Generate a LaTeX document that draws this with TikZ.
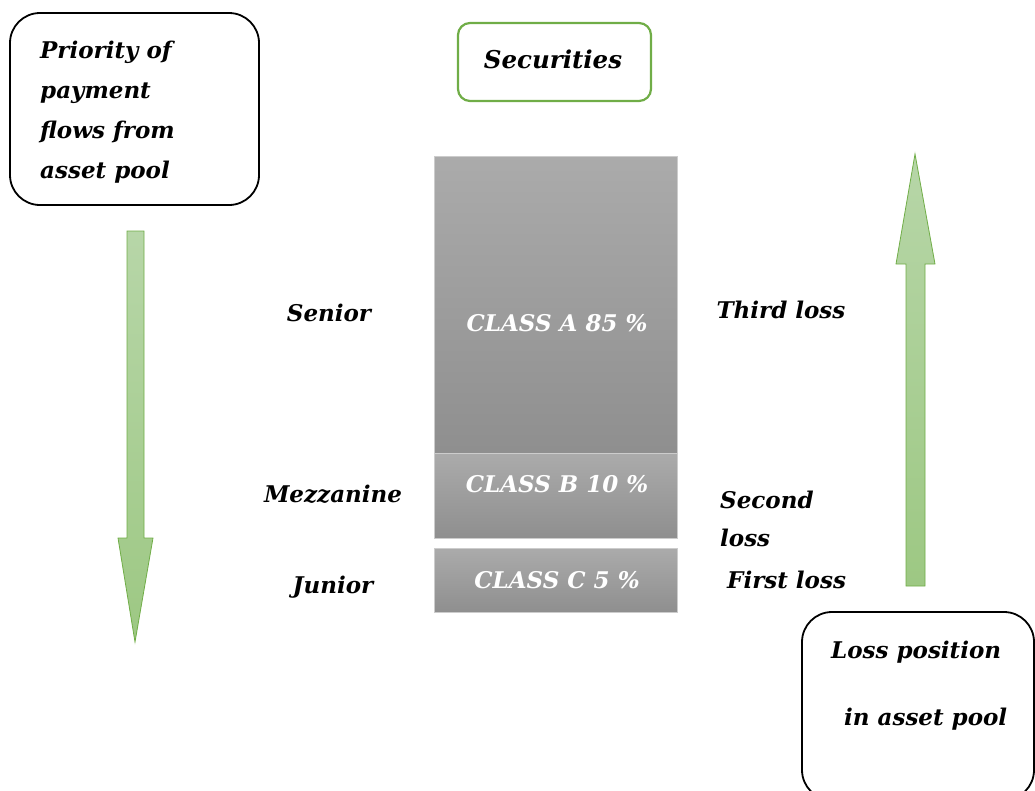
\documentclass[tikz,border=0pt]{standalone}
\usepackage{fontspec}
\setmainfont{DejaVu Serif}
\begin{document}
\begin{tikzpicture}[x=1pt,y=-1pt,
  lbl/.style={font=\bfseries\itshape\fontsize{23}{27}\selectfont, inner sep=0pt},
  boxlbl/.style={font=\bfseries\itshape\fontsize{23}{40}\selectfont, inner sep=0pt, align=left, anchor=west},
  tranche/.style={draw=black!20, line width=0.6pt, top color=black!33, bottom color=black!44, inner sep=0pt, minimum width=243pt},
  clbl/.style={font=\bfseries\itshape\fontsize{23}{27}\selectfont, text=white, inner sep=0pt},
]
\definecolor{gline}{RGB}{112,173,71}
\definecolor{gtop}{RGB}{183,214,168}
\definecolor{gbot}{RGB}{157,200,131}
\useasboundingbox (0,0) rectangle (1035,790);

% top-left box
\draw[line width=1.8pt, rounded corners=30pt] (10,13) rectangle (259,205);
\node[boxlbl] (prio) at (40,112) {Priority of\\payment\\flows from\\asset pool};

% Securities box
\draw[gline, line width=2.2pt, rounded corners=12pt] (458,23) rectangle (651,101);
\node[lbl, font=\bfseries\itshape\fontsize{24.5}{28}\selectfont] (sec) at (553,59) {Securities};

% tranches
\node[tranche, minimum height=297pt] (A) at (555.5,304.5) {};
\node[tranche, minimum height=85pt] (B) at (555.5,495.5) {};
\node[tranche, minimum height=64pt] (C) at (555.5,580) {};
\node[clbl] (Al) at (557,323) {CLASS A 85 \%};
\node[clbl] (Bl) at (557,484) {CLASS B 10 \%};
\node[clbl] (Cl) at (557,580) {CLASS C 5 \%};

% left labels
\node[lbl] (sen) at (329,313) {Senior};
\node[lbl] (mez) at (333,494) {Mezzanine};
\node[lbl] (jun) at (333,587) {Junior};

% right labels
\node[lbl] (third) at (781,310) {Third loss};
\node[lbl, anchor=west, align=left, font=\bfseries\itshape\fontsize{23}{38}\selectfont] (second) at (720,519) {Second\\loss};
\node[lbl, anchor=west] (first) at (727,580) {First loss};

% left arrow (down)
\draw[gline, line width=0.8pt, top color=gtop, bottom color=gbot]
  (127,231) -- (144,231) -- (144,538) -- (153,538) -- (135,642) -- (118,538) -- (127,538) -- cycle;

% right arrow (up)
\draw[gline, line width=0.8pt, top color=gtop, bottom color=gbot]
  (906,586) -- (925,586) -- (925,264) -- (935,264) -- (915,154) -- (896,264) -- (906,264) -- cycle;

% bottom-right box
\begin{scope}
\clip (0,0) rectangle (1035,790);
\draw[line width=1.8pt, rounded corners=30pt] (802,612) rectangle (1034,800);
\end{scope}
\node[lbl, anchor=west] (loss1) at (831,652) {Loss position};
\node[lbl, anchor=west] (loss2) at (844,719) {in asset pool};
\end{tikzpicture}
\end{document}
